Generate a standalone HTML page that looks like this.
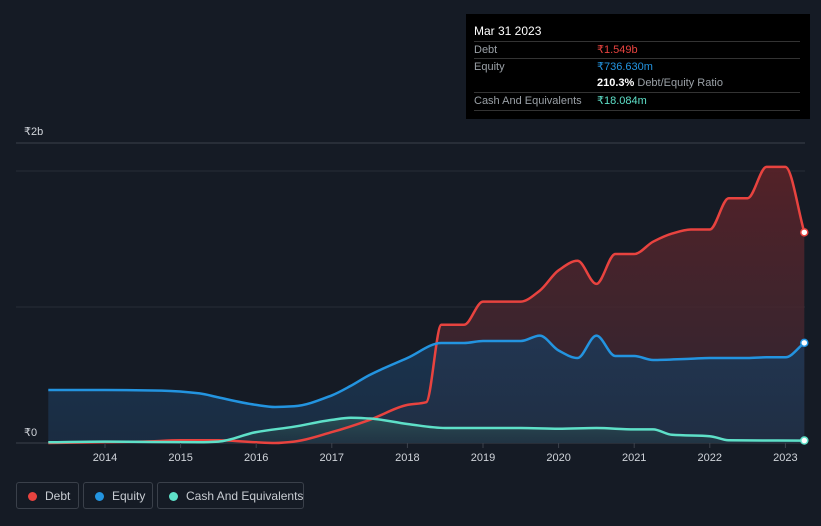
<!DOCTYPE html>
<html><head><meta charset="utf-8"><style>
body{margin:0;background:#151b25;font-family:"Liberation Sans",sans-serif;}
#wrap{position:relative;width:821px;height:526px;overflow:hidden;background:#151b25;}
.tt{position:absolute;left:466px;top:14px;width:344px;height:105px;background:#000;color:#fff;font-size:11px;}
.tt .row{position:absolute;left:8px;width:326px;border-top:1px solid #333;height:17px;line-height:17px;}
.lab{color:#9aa0a6;}
.val{position:absolute;left:123px;top:0;}
.legend{position:absolute;top:482px;height:27px;border:1px solid #3a404a;border-radius:3px;color:#c8ccd2;font-size:12px;line-height:26px;box-sizing:border-box;white-space:nowrap;overflow:hidden;}
.dot{display:inline-block;width:9px;height:9px;border-radius:50%;margin:0 8px 0 11px;vertical-align:-1px;}
</style></head><body>
<div id="wrap">
<svg id="chart" width="821" height="526" style="position:absolute;left:0;top:0">
<defs>
<linearGradient id="gd" x1="0" y1="0" x2="0" y2="1"><stop offset="0" stop-color="#5a2228" stop-opacity="0.9"/><stop offset="1" stop-color="#3a2a35" stop-opacity="0.7"/></linearGradient>
<linearGradient id="ge" x1="0" y1="0" x2="0" y2="1"><stop offset="0" stop-color="#1b3a5a" stop-opacity="0.8"/><stop offset="1" stop-color="#1c3048" stop-opacity="0.8"/></linearGradient>
<linearGradient id="gc" x1="0" y1="0" x2="0" y2="1"><stop offset="0" stop-color="#2f5a5a" stop-opacity="0.7"/><stop offset="1" stop-color="#223a44" stop-opacity="0.5"/></linearGradient>
</defs>
<line x1="16" x2="805" y1="143" y2="143" stroke="#3c424c"/>
<g id="grid"></g><g id="areas"></g><g id="lines"></g><g id="xaxis"></g>
<text x="24" y="135" fill="#d0d4da" font-size="11">₹2b</text>
<text x="24" y="436" fill="#d0d4da" font-size="11">₹0</text>
</svg>
<div class="tt">
<div style="position:absolute;left:8px;top:10px;font-size:12px">Mar 31 2023</div>
<div class="row" style="top:27px"><span class="lab">Debt</span><span class="val" style="color:#e8433f">₹1.549b</span></div>
<div class="row" style="top:44px"><span class="lab">Equity</span><span class="val" style="color:#2394e0">₹736.630m</span></div>
<div class="row" style="top:61px;border-top:none"><span class="val"><b>210.3%</b> <span class="lab">Debt/Equity Ratio</span></span></div>
<div class="row" style="top:78px;border-bottom:1px solid #333"><span class="lab">Cash And Equivalents</span><span class="val" style="color:#5ee0c8">₹18.084m</span></div>
</div>
<div class="legend" style="left:16px;width:63px"><span class="dot" style="background:#e8433f"></span>Debt</div>
<div class="legend" style="left:83px;width:70px"><span class="dot" style="background:#2394e0"></span>Equity</div>
<div class="legend" style="left:157px;width:147px"><span class="dot" style="background:#5ee0c8"></span>Cash And Equivalents</div>
</div>
<script>
const years=[2014,2015,2016,2017,2018,2019,2020,2021,2022,2023];
const debtT=[2013.25,2014.5,2015,2015.5,2016,2016.25,2016.5,2017,2017.5,2018,2018.25,2018.45,2018.75,2019,2019.5,2019.75,2020,2020.25,2020.5,2020.75,2021,2021.25,2021.5,2021.75,2022,2022.25,2022.5,2022.75,2023,2023.25];
const debtV=[0,0.01,0.02,0.02,0.005,0,0.01,0.08,0.17,0.28,0.3,0.87,0.87,1.04,1.04,1.12,1.27,1.34,1.17,1.39,1.39,1.48,1.54,1.57,1.57,1.80,1.80,2.03,2.03,1.549];
const eqT=[2013.25,2014,2014.75,2015.25,2015.5,2016,2016.25,2016.5,2017,2017.25,2017.5,2018,2018.45,2018.75,2019,2019.5,2019.75,2020,2020.25,2020.5,2020.75,2021,2021.25,2021.75,2022,2022.5,2022.75,2023,2023.25];
const eqV=[0.39,0.39,0.385,0.365,0.335,0.28,0.265,0.27,0.35,0.42,0.5,0.625,0.735,0.735,0.75,0.75,0.79,0.68,0.625,0.79,0.64,0.64,0.61,0.62,0.625,0.625,0.63,0.63,0.7366];
const cashT=[2013.25,2014,2015.25,2015.5,2016,2016.5,2017,2017.25,2017.5,2018,2018.5,2019,2019.5,2020,2020.5,2021,2021.25,2021.5,2022,2022.25,2023.25];
const cashV=[0.005,0.01,0.005,0.01,0.08,0.12,0.17,0.185,0.18,0.14,0.11,0.11,0.11,0.105,0.11,0.1,0.1,0.06,0.05,0.02,0.018];
const X=t=>105+(t-2014)*75.6;
const Y=v=>443-v*136;
const NS='http://www.w3.org/2000/svg';
const g=id=>document.getElementById(id);
function mk(tag,attrs,parent){const e=document.createElementNS(NS,tag);for(const k in attrs)e.setAttribute(k,attrs[k]);parent.appendChild(e);return e;}
[0,1,2].forEach(v=>{
  const l=mk('line',{x1:16,x2:805,y1:Y(v),y2:Y(v),stroke:v===0?'#3c424c':'#262c36'},g('grid'));
  
  
});
years.forEach(yr=>{
  const tk=mk('line',{x1:X(yr),x2:X(yr),y1:443,y2:448,stroke:'#3c424c'},g('xaxis'));
  
  
  const t=mk('text',{x:X(yr),y:461,fill:'#d0d4da','font-size':11,'text-anchor':'middle'},g('xaxis'));
  t.textContent=yr;
  
  
});
// monotone cubic (Fritsch-Carlson) path
function monoPath(xs,ys){
  const n=xs.length, d=[], m=new Array(n);
  for(let i=0;i<n-1;i++)d.push((ys[i+1]-ys[i])/(xs[i+1]-xs[i]));
  m[0]=d[0]; m[n-1]=d[n-2];
  for(let i=1;i<n-1;i++){
    if(d[i-1]*d[i]<=0)m[i]=0;
    else{const h0=xs[i]-xs[i-1],h1=xs[i+1]-xs[i];m[i]=3*(h0+h1)/((2*h1+h0)/d[i-1]+(h1+2*h0)/d[i]);}
  }
  let s='M'+xs[0].toFixed(1)+','+ys[0].toFixed(1);
  for(let i=0;i<n-1;i++){
    const h=(xs[i+1]-xs[i])/3;
    s+=' C'+(xs[i]+h).toFixed(1)+','+(ys[i]+m[i]*h).toFixed(1)+' '+(xs[i+1]-h).toFixed(1)+','+(ys[i+1]-m[i+1]*h).toFixed(1)+' '+xs[i+1].toFixed(1)+','+ys[i+1].toFixed(1);
  }
  return s;
}
function series(T,V,color,fill,name){
  const xs=T.map(X), ys=V.map(Y);
  const line=monoPath(xs,ys);
  const a=mk('path',{d:line+' L'+xs[xs.length-1]+','+Y(0)+' L'+xs[0]+','+Y(0)+' Z',fill:fill},g('areas'));
  
  
  const l=mk('path',{d:line,fill:'none',stroke:color,'stroke-width':2.5,'stroke-linejoin':'round'},g('lines'));
  
  
  const c=mk('circle',{cx:xs[xs.length-1],cy:ys[ys.length-1],r:3.5,fill:'#fff',stroke:color,'stroke-width':1.5},g('lines'));
  
  
}
series(debtT,debtV,'#e8433f','url(#gd)','debt');
series(eqT,eqV,'#2394e0','url(#ge)','equity');
series(cashT,cashV,'#5ee0c8','url(#gc)','cash');
</script>
</body></html>
